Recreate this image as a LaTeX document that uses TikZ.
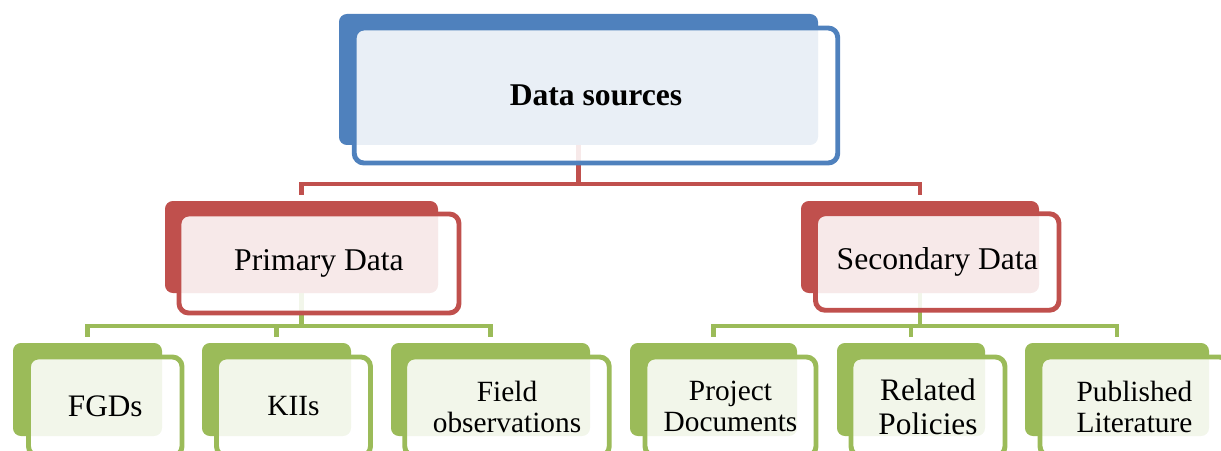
\documentclass[tikz,border=0pt]{standalone}
\usepackage{fontspec}
\setmainfont{Liberation Serif}
\usetikzlibrary{backgrounds}
\definecolor{srcblue}{HTML}{4F81BD}
\definecolor{srcred}{HTML}{C0504D}
\definecolor{srcgreen}{HTML}{9BBB59}
\tikzset{
	back/.style={fill=#1, rounded corners=4.5pt, inner sep=0pt, minimum height=1.86cm},
	front/.style={draw=#1, line width=2.8pt, rounded corners=5.5pt, fill=white, fill opacity=0.88,
		text opacity=1, inner sep=0pt, align=center, minimum height=1.98cm},
	link/.style={draw=#1, line width=2.5pt, shorten >=0.12cm},
	big/.style={font=\fontsize{18}{19.5}\selectfont},
	small/.style={font=\fontsize{16.7}{17.6}\selectfont},
}

\begin{document}
\begin{tikzpicture}
			%%%%% START %%%%%
			\useasboundingbox (0, 0) rectangle (24.42, 9);
			\clip (0, 0) rectangle (24.42, 9);
			
			% top level
			\node[back=srcblue, minimum width=9.58cm, minimum height=2.62cm] (dsB) at (11.57, 7.41) {};
			\node[front=srcblue, minimum width=9.67cm, minimum height=2.70cm, big] (ds) at (11.92, 7.09) {\bfseries Data sources};
			
			% second level
			\node[back=srcred, minimum width=5.46cm, minimum height=1.84cm] (pdB) at (6.03, 4.06) {};
			\node[front=srcred, minimum width=5.60cm, big] (pd) at (6.38, 3.73) {\raisebox{-1.5pt}{Primary Data}};
			\node[back=srcred, minimum width=4.76cm, minimum height=1.84cm] (sdB) at (18.40, 4.06) {};
			\node[front=srcred, minimum width=4.87cm, minimum height=1.93cm, big] (sd) at (18.745, 3.76) {\raisebox{-1.5pt}{Secondary Data}};
			
			% third level
			\node[back=srcgreen, minimum width=2.98cm] (fgB) at (1.75, 1.21) {};
			\node[front=srcgreen, minimum width=3.07cm, font=\fontsize{17.8}{19}\selectfont] (fg) at (2.105, 0.87) {FGDs};
			\node[back=srcgreen, minimum width=2.98cm] (kiB) at (5.53, 1.21) {};
			\node[front=srcgreen, minimum width=3.08cm, small] (ki) at (5.87, 0.87) {KIIs};
			\node[back=srcgreen, minimum width=3.98cm] (foB) at (9.81, 1.21) {};
			\node[front=srcgreen, minimum width=4.09cm, small] (fo) at (10.14, 0.87) {Field\\observations};
			
			\node[back=srcgreen, minimum width=3.34cm] (pjB) at (14.27, 1.21) {};
			\node[front=srcgreen, minimum width=3.42cm, small] (pj) at (14.61, 0.87) {Project\\Documents};
			\node[back=srcgreen, minimum width=2.96cm] (rpB) at (18.22, 1.21) {};
			\node[front=srcgreen, minimum width=3.08cm, font=\fontsize{17.8}{19.3}\selectfont] (rp) at (18.56, 0.87) {Related\\Policies};
			\node[back=srcgreen, minimum width=3.68cm] (plB) at (22.34, 1.21) {};
			\node[front=srcgreen, minimum width=3.78cm, small] (pl) at (22.69, 0.87) {Published\\Literature};
			
			% connectors
			\begin{scope}[on background layer]
				\coordinate (busA) at (0, 5.32);
				\coordinate (busB) at (0, 2.48);
				\draw[link=srcred] (dsB.south) -- (dsB.south |- busA) -| (pdB.north);
				\draw[link=srcred] (dsB.south |- busA) -| (sdB.north);
				
				\draw[link=srcgreen] (pdB.south) -- (pdB.south |- busB) -| (fgB.north);
				\draw[link=srcgreen] (pdB.south |- busB) -| (kiB.north);
				\draw[link=srcgreen] (pdB.south |- busB) -| (foB.north);
				
				\draw[link=srcgreen] (sdB.south) -- (sdB.south |- busB) -| (pjB.north);
				\draw[link=srcgreen] (sdB.south |- busB) -| (rpB.north);
				\draw[link=srcgreen] (sdB.south |- busB) -| (plB.north);
			\end{scope}
			
			%%%%% END %%%%%
\end{tikzpicture}
\end{document}
